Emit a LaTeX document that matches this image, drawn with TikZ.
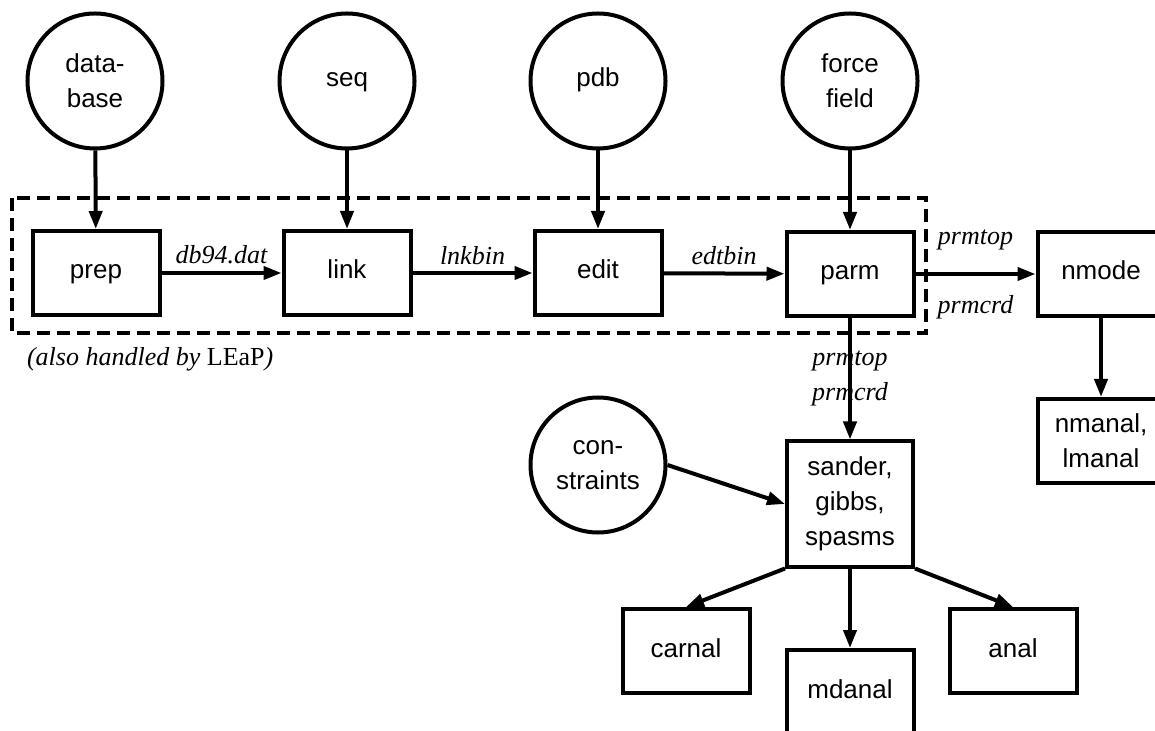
\documentclass[tikz,border=0pt]{standalone}
\usepackage{fontspec}
\setmainfont{Liberation Serif}
\setsansfont{Liberation Sans}
\usetikzlibrary{arrows.meta}
\tikzset{prog/.style={
        draw, line width=2pt, minimum width=63.5pt, minimum height=42pt,
        inner sep=0pt, align=center, font=\sffamily\fontsize{13}{17.5}\selectfont
    },
    datafile/.style={
        draw, circle, line width=2pt, minimum size=67.5pt,
        inner sep=0pt, align=center, font=\sffamily\fontsize{13}{17.5}\selectfont
    },
    oneline/.style={text height=8pt, text depth=2pt},
    flow/.style={
        line width=2pt, -{Triangle[length=9pt,width=6.5pt]}
    },
    fname/.style={font=\itshape\fontsize{13}{15}\selectfont}
}

\begin{document}
\begin{tikzpicture}[x=0.5pt, y=-0.5pt]
    \useasboundingbox (0,0) rectangle (1155,731);
    % Input files
    \node[datafile] (database) at (95,81) {data-\\base};
    \node[datafile, oneline] (seq) at (347,81) {seq};
    \node[datafile, oneline] (pdb) at (598,81) {pdb};
    \node[datafile] (ffield) at (850,81) {force\\field};
    \node[datafile] (cons) at (598,465) {con-\\straints};
    % Programs
    \node[prog, oneline] (prep) at (96,273) {prep};
    \node[prog, oneline] (link) at (347,273) {link};
    \node[prog, oneline] (edit) at (598,273) {edit};
    \node[prog, oneline] (parm) at (850,274) {parm};
    \node[prog, oneline] (nmode) at (1101,274) {nmode};
    \node[prog] (nmanal) at (1101,441) {nmanal,\\lmanal};
    \node[prog, minimum width=63pt, minimum height=62.5pt] (sander) at (850,504) {sander,\\gibbs,\\spasms};
    \node[prog, oneline] (carnal) at (686,651) {carnal};
    \node[prog, oneline] (mdanal) at (850,692) {mdanal};
    \node[prog, oneline] (anal) at (1013,651) {anal};
    \draw[line width=2pt, dash pattern=on 6.5pt off 3.5pt] (12,198) rectangle (926,333);
    \node[fname, anchor=west] (leap) at (20,359) {(also handled by \textup{LEaP})};
    % Connectors
    \draw[flow] (database) -- (prep);
    \draw[flow] (seq) -- (link);
    \draw[flow] (pdb) -- (edit);
    \draw[flow] (ffield) -- (parm);
    \draw[flow] (prep) -- node[fname, above] {db94.dat} (link);
    \draw[flow] (link) -- node[fname, above] {lnkbin} (edit);
    \draw[flow] (edit) -- node[fname, above] {edtbin} (parm);
    \draw[flow] (parm) -- node[fname, yshift=17pt] {prmtop}
        node[fname, yshift=-16.5pt] {prmcrd} (nmode);
    \draw[flow] (parm) -- node[fname, yshift=9pt] {prmtop}
        node[fname, yshift=-7.5pt] {prmcrd} (sander);
    \draw[flow] (nmode) -- (nmanal);
    \draw[flow] (cons.east) -- (sander.west);
    \draw[flow] (sander.south west) -- (carnal.north);
    \draw[flow] (sander) -- (mdanal);
    \draw[flow] (sander.south east) -- (anal.north);
\end{tikzpicture}
\end{document}
